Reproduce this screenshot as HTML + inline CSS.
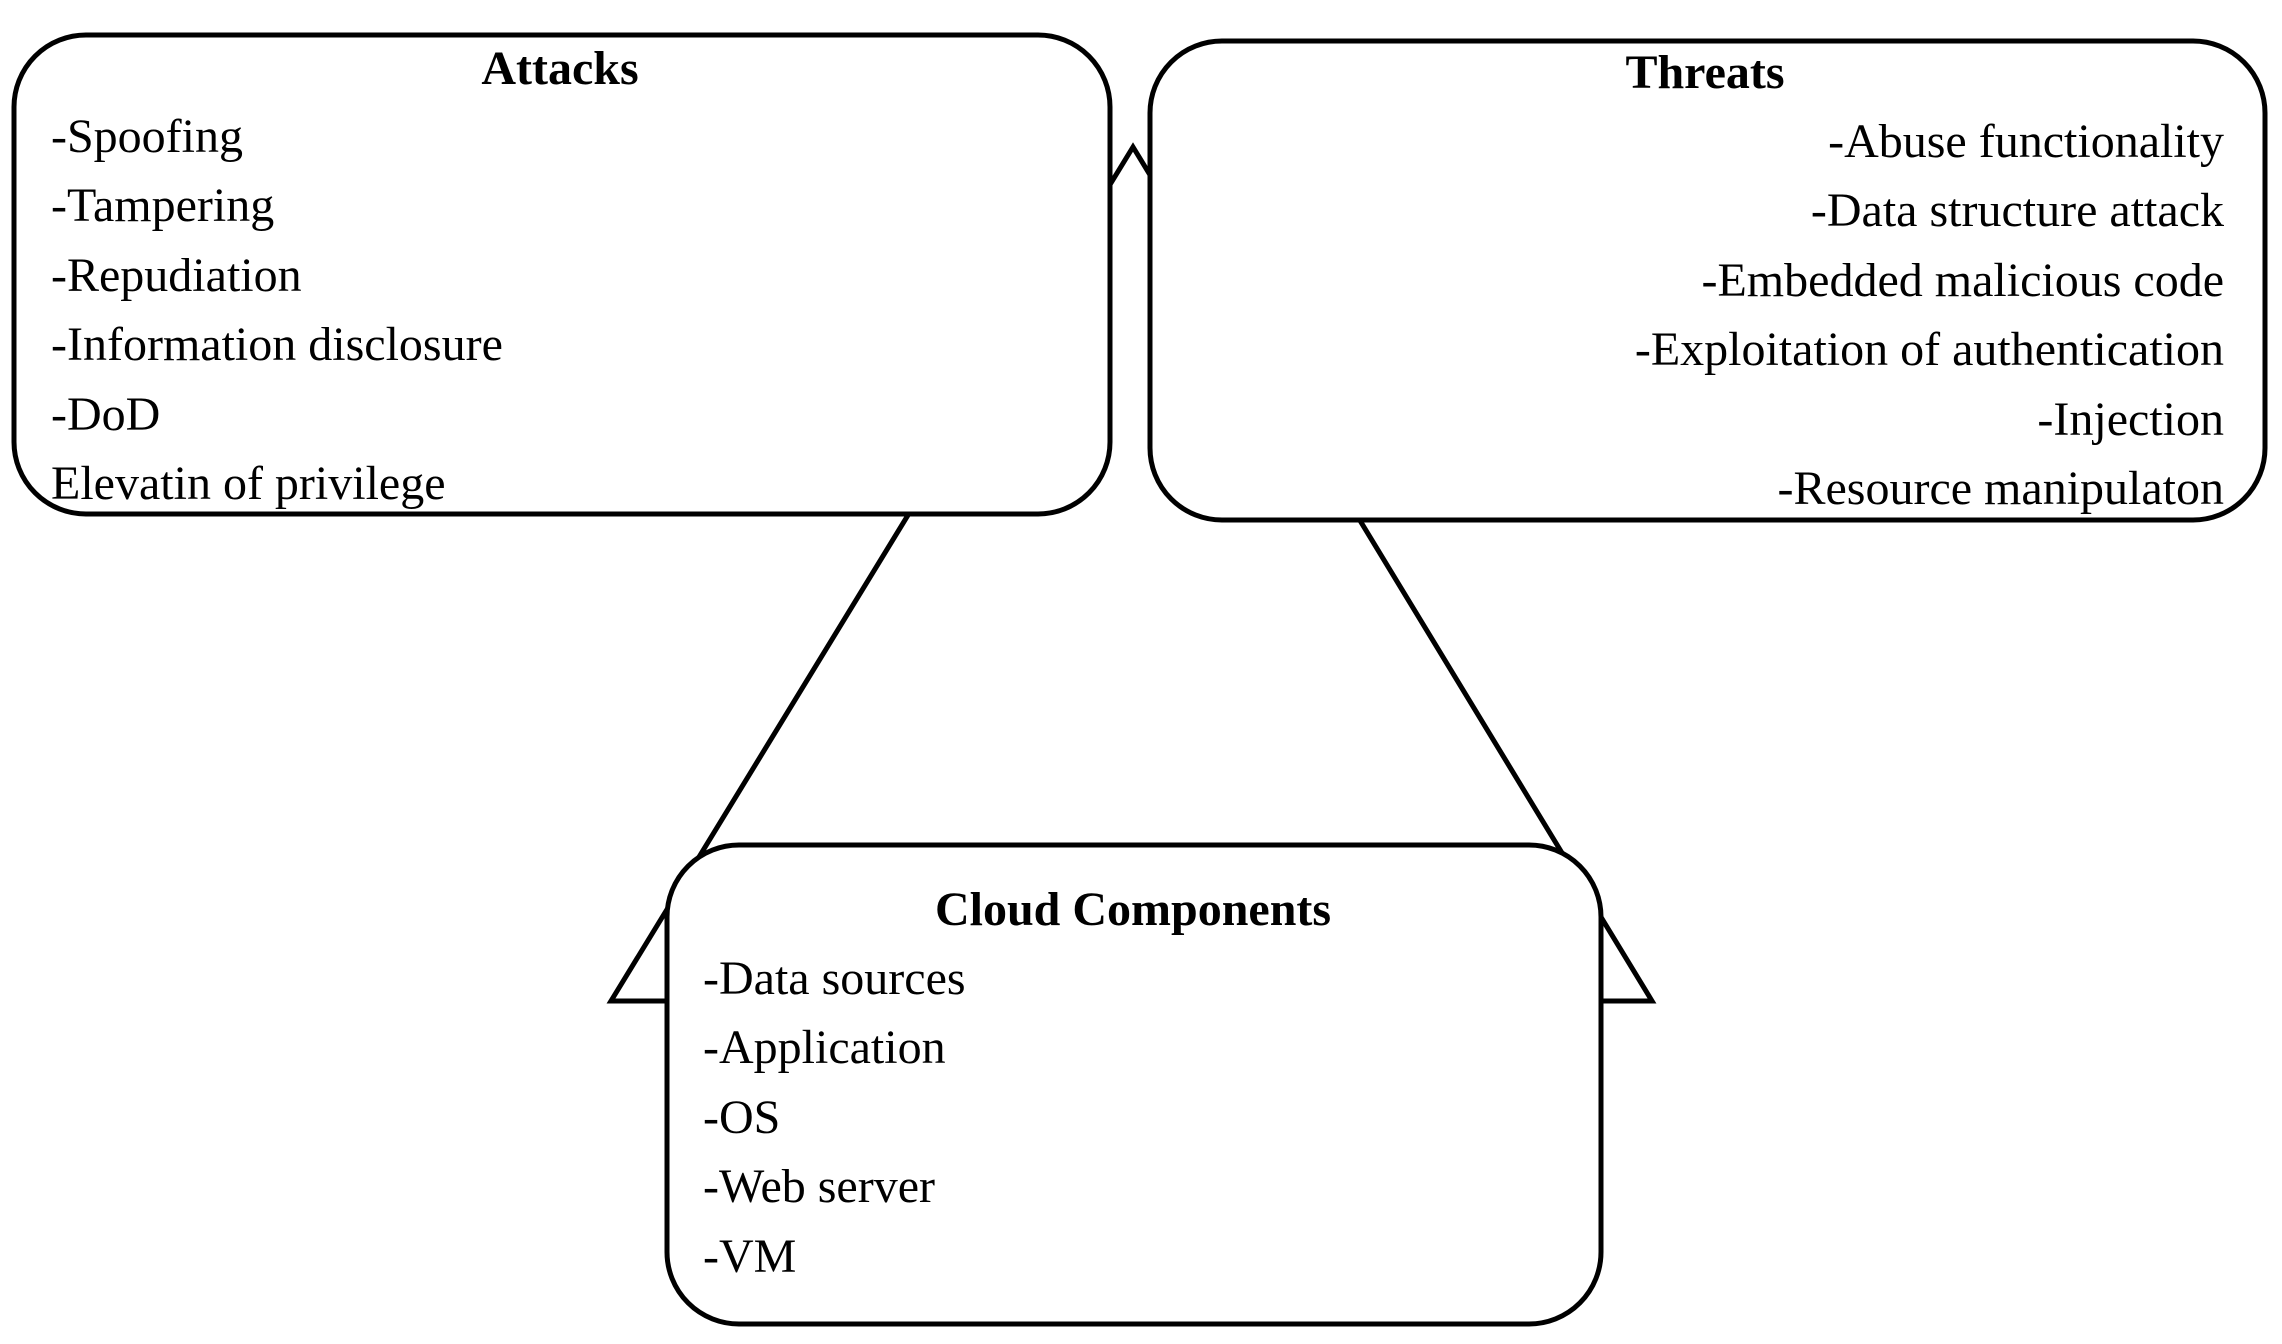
<!DOCTYPE html>
<html><head><meta charset="utf-8"><style>
html,body{margin:0;padding:0;background:#fff;}
svg{display:block;}
text{font-family:"Liberation Serif",serif;font-size:48px;fill:#000;}
.t{font-weight:bold;text-anchor:middle;}
.r{text-anchor:end;}
</style></head><body>
<svg width="2282" height="1344" viewBox="0 0 2282 1344">
<polygon points="1133,147 611,1001 1652,1001" fill="#fff" stroke="#000" stroke-width="5" stroke-linejoin="miter"/>
<rect x="14" y="35" width="1096" height="479" rx="72" fill="#fff" stroke="#000" stroke-width="5"/>
<rect x="1150" y="41" width="1115" height="479" rx="72" fill="#fff" stroke="#000" stroke-width="5"/>
<rect x="667" y="845" width="934" height="479" rx="72" fill="#fff" stroke="#000" stroke-width="5"/>
<text class="t" x="560" y="84">Attacks</text>
<text x="51" y="152">-Spoofing</text>
<text x="51" y="221">-Tampering</text>
<text x="51" y="291">-Repudiation</text>
<text x="51" y="360">-Information disclosure</text>
<text x="51" y="430">-DoD</text>
<text x="51" y="499">Elevatin of privilege</text>
<text class="t" x="1705" y="88">Threats</text>
<text class="r" x="2224" y="157">-Abuse functionality</text>
<text class="r" x="2224" y="226">-Data structure attack</text>
<text class="r" x="2224" y="296">-Embedded malicious code</text>
<text class="r" x="2224" y="365">-Exploitation of authentication</text>
<text class="r" x="2224" y="435">-Injection</text>
<text class="r" x="2224" y="504">-Resource manipulaton</text>
<text class="t" x="1133" y="925">Cloud Components</text>
<text x="703" y="994">-Data sources</text>
<text x="703" y="1063">-Application</text>
<text x="703" y="1133">-OS</text>
<text x="703" y="1202">-Web server</text>
<text x="703" y="1272">-VM</text>
</svg>
</body></html>
